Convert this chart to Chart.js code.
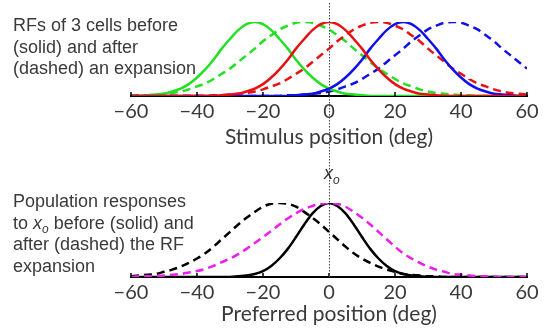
<!DOCTYPE html>
<html><head><meta charset="utf-8">
<script src="https://cdn.jsdelivr.net/npm/chart.js@4/dist/chart.umd.min.js"></script>
<style>
html,body{margin:0;padding:0;background:#fff;}
#wrap{position:relative;width:546px;height:335px;overflow:hidden;background:#fff;}
canvas{position:absolute;left:0;}
#c1{top:0;} #c2{top:150px;}
.note{position:absolute;left:13px;font-family:"Liberation Sans",Arial,sans-serif;font-size:18px;line-height:21.7px;color:#3a3a3a;white-space:nowrap;}
.note sub{font-size:12px;line-height:0;vertical-align:-4px;font-style:italic;}
#xo{position:absolute;left:324px;top:164px;font-family:"Liberation Sans",Arial,sans-serif;font-size:18px;line-height:18px;color:#333;font-style:italic;white-space:nowrap;}
#xo sub{font-size:12px;line-height:0;vertical-align:-5px;}
</style></head><body>
<div id="wrap">
<canvas id="c1" width="546" height="150"></canvas>
<canvas id="c2" width="546" height="185"></canvas>
<div class="note" style="top:15px">RFs of 3 cells before<br>(solid) and after<br>(dashed) an expansion</div>
<div class="note" style="top:191px">Population responses<br>to <i>x</i><sub>o</sub> before (solid) and<br>after (dashed) the RF<br>expansion</div>
<div id="xo">x<sub>o</sub></div>
</div>
<script>
// Positions (deg)
const positions = [-60,-57.5,-55,-52.5,-50,-47.5,-45,-42.5,-40,-37.5,-35,-32.5,-30,-27.5,-25,-22.5,-20,-17.5,-15,-12.5,-10,-7.5,-5,-2.5,0,2.5,5,7.5,10,12.5,15,17.5,20,22.5,25,27.5,30,32.5,35,37.5,40,42.5,45,47.5,50,52.5,55,57.5,60];
const tickValues = [-60,-40,-20,0,20,40,60];

// Top panel: receptive fields of 3 cells, before (solid) and after (dashed)
const greenSolid = [0,0,0.01,0.02,0.03,0.06,0.10,0.16,0.25,0.36,0.49,0.64,0.77,0.89,0.97,1.00,0.97,0.89,0.77,0.64,0.49,0.36,0.25,0.16,0.10,0.06,0.03,0.02,0.01,0,0,0,0,0,0,0,0,0,0,0,0,0,0,0,0,0,0,0,0];
const redSolid   = [0,0,0,0,0,0,0,0,0,0,0,0.01,0.02,0.03,0.06,0.10,0.16,0.25,0.36,0.49,0.64,0.77,0.89,0.97,1.00,0.97,0.89,0.77,0.64,0.49,0.36,0.25,0.16,0.10,0.06,0.03,0.02,0.01,0,0,0,0,0,0,0,0,0,0,0];
const blueSolid  = [0,0,0,0,0,0,0,0,0,0,0,0,0,0,0,0,0,0,0,0,0.01,0.02,0.03,0.06,0.10,0.16,0.25,0.36,0.49,0.64,0.77,0.89,0.97,1.00,0.97,0.89,0.77,0.64,0.49,0.36,0.25,0.16,0.10,0.06,0.03,0.02,0.01,0,0];
const greenDashed= [0,0.01,0.01,0.02,0.03,0.04,0.06,0.09,0.13,0.17,0.23,0.30,0.37,0.46,0.55,0.64,0.74,0.82,0.90,0.95,0.99,1.00,0.99,0.95,0.90,0.82,0.74,0.64,0.55,0.46,0.37,0.30,0.23,0.17,0.13,0.09,0.06,0.04,0.03,0.02,0.01,0.01,0,0,0,0,0,0,0];
const redDashed  = [0,0,0,0,0,0,0,0,0,0,0.01,0.01,0.02,0.03,0.04,0.06,0.09,0.13,0.17,0.23,0.30,0.37,0.46,0.55,0.64,0.74,0.82,0.90,0.95,0.99,1.00,0.99,0.95,0.90,0.82,0.74,0.64,0.55,0.46,0.37,0.30,0.23,0.17,0.13,0.09,0.06,0.04,0.03,0.02];
const blueDashed = [0,0,0,0,0,0,0,0,0,0,0,0,0,0,0,0,0,0,0,0.01,0.01,0.02,0.03,0.04,0.06,0.09,0.13,0.17,0.23,0.30,0.37,0.46,0.55,0.64,0.74,0.82,0.90,0.95,0.99,1.00,0.99,0.95,0.90,0.82,0.74,0.64,0.55,0.46,0.37];

// Bottom panel: population responses to x_o
const popBefore     = [0,0,0,0,0,0,0,0,0,0,0,0,0,0.01,0.02,0.04,0.08,0.15,0.25,0.38,0.54,0.71,0.86,0.96,1.00,0.96,0.86,0.71,0.54,0.38,0.25,0.15,0.08,0.04,0.02,0.01,0,0,0,0,0,0,0,0,0,0,0,0,0];
const popAfterShift = [0.01,0.02,0.03,0.04,0.07,0.10,0.14,0.19,0.25,0.32,0.41,0.51,0.61,0.71,0.80,0.88,0.95,0.99,1.00,0.99,0.95,0.88,0.80,0.71,0.61,0.51,0.41,0.32,0.25,0.19,0.14,0.10,0.07,0.04,0.03,0.02,0.01,0.01,0,0,0,0,0,0,0,0,0,0,0];
const popAfterWide  = [0,0.01,0.01,0.01,0.02,0.03,0.04,0.06,0.08,0.11,0.15,0.20,0.25,0.31,0.38,0.46,0.54,0.62,0.71,0.79,0.86,0.92,0.96,0.99,1.00,0.99,0.95,0.88,0.80,0.71,0.61,0.51,0.41,0.32,0.25,0.19,0.14,0.10,0.07,0.04,0.03,0.02,0.01,0.01,0,0,0,0,0];

const toXY = arr => positions.map((x, i) => ({x, y: arr[i]}));
const ds = (arr, color, dashed) => ({
  data: toXY(arr), borderColor: color, borderWidth: 2.5, pointRadius: 0,
  borderDash: dashed ? [8,5] : [], cubicInterpolationMode: 'monotone', fill: false
});

const overlay = {
  id: 'overlay',
  afterDatasetsDraw(chart, args, opts) {
    const {ctx, scales: {x}, chartArea} = chart;
    const yb = chartArea.bottom;
    ctx.save();
    ctx.strokeStyle = '#000'; ctx.lineWidth = 1.5;
    for (const v of tickValues) {
      const p = x.getPixelForValue(v);
      ctx.beginPath(); ctx.moveTo(p, yb); ctx.lineTo(p, yb - 4); ctx.stroke();
    }
    const px = Math.round(x.getPixelForValue(0)) + 0.5;
    ctx.strokeStyle = '#444'; ctx.lineWidth = 1; ctx.setLineDash([1.5, 1.5]);
    ctx.beginPath(); ctx.moveTo(px, opts.y0); ctx.lineTo(px, opts.y1 != null ? opts.y1 : yb); ctx.stroke();
    ctx.restore();
  }
};

function xScale(title, h, padBottom) {
  return {
    type: 'linear', min: -60, max: 60,
    afterFit(s) { s.height = h; },
    afterBuildTicks(s) { s.ticks = tickValues.map(v => ({value: v})); },
    grid: {display: false, drawTicks: false, tickLength: 0},
    border: {display: true, color: '#000', width: 2},
    ticks: {color: '#3a3a3a', padding: 4, maxRotation: 0, autoSkip: false,
      font: {family: 'Lato', size: 20},
      callback: v => v < 0 ? '\u2212' + Math.abs(v) : String(v)},
    title: {display: true, text: title, color: '#3a3a3a',
      font: {family: 'Lato', size: 21}, padding: {top: 0, bottom: padBottom}}
  };
}

function makeChart(id, datasets, title, padTop, axisH, titlePad, lineOpts) {
  return new Chart(document.getElementById(id), {
    type: 'line',
    data: {datasets},
    options: {
      responsive: false, animation: false, devicePixelRatio: 1,
      layout: {padding: {top: padTop, left: 131, right: 19, bottom: 0}},
      scales: {x: xScale(title, axisH, titlePad), y: {display: false, min: 0, max: 1}},
      plugins: {legend: {display: false}, tooltip: {enabled: false}, overlay: lineOpts}
    },
    plugins: [overlay]
  });
}

makeChart('c1', [
  ds(redSolid, '#e81010', false),
  ds(blueSolid, '#1010e8', false),
  ds(greenSolid, '#22e022', false),
  ds(redDashed, '#e81010', true),
  ds(blueDashed, '#1010e8', true),
  ds(greenDashed, '#22e022', true)
], 'Stimulus position (deg)', 22, 54, 0, {y0: 3, y1: 150});

makeChart('c2', [
  ds(popAfterWide, '#ee1cee', true),
  ds(popBefore, '#000000', false),
  ds(popAfterShift, '#000000', true)
], 'Preferred position (deg)', 53, 58, 8, {y0: 0, y1: null});
</script>
</body></html>
